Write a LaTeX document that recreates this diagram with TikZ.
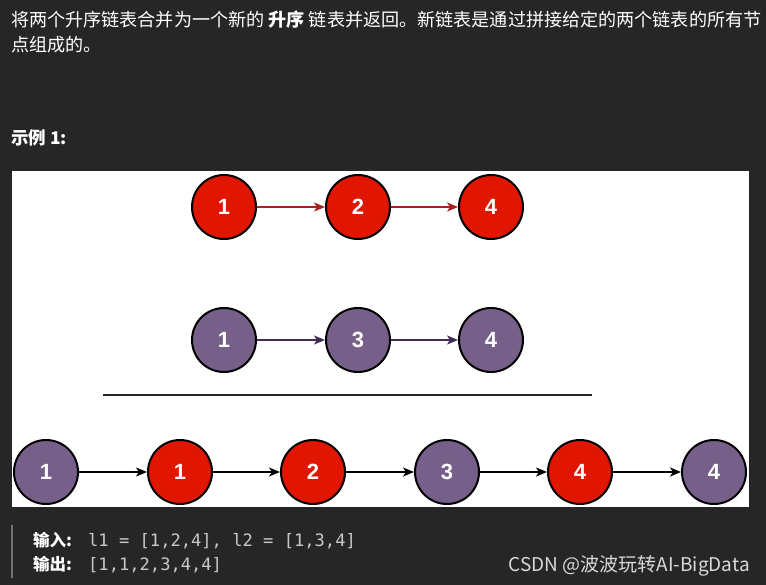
\documentclass[tikz,border=0pt]{standalone}
\usepackage{fontspec}
\setmainfont{Liberation Sans}
\setmonofont{DejaVu Sans Mono}
\newfontfamily\cjk{Noto Sans CJK SC}
\usepackage{xcolor}
\usetikzlibrary{arrows.meta}
\definecolor{bgdark}{HTML}{262626}
\definecolor{nodered}{HTML}{E01600}
\definecolor{nodepurple}{HTML}{76608A}
\definecolor{arrred}{HTML}{A82020}
\definecolor{arrpurple}{HTML}{432D57}
\definecolor{codegrey}{HTML}{C8C8C8}

\begin{document}
\begin{tikzpicture}[x=1pt,y=-1pt,>={Stealth[length=11pt,width=9pt,inset=3pt]},
  lnode/.style={circle,draw=black,line width=2pt,minimum size=64pt,inner sep=0pt,
    text=white,font=\fontsize{22}{22}\selectfont\bfseries},
  rednode/.style={lnode,fill=nodered},
  purplenode/.style={lnode,fill=nodepurple},
  link/.style={->,line width=1.8pt},
  txt/.style={anchor=base west,inner sep=0pt,text=white}]
  \fill[bgdark] (0,0) rectangle (766,585);
  \useasboundingbox (0,0) rectangle (766,585);
  % description
  \node[txt,font=\cjk\fontsize{18.1}{18.1}\selectfont] (desc1) at (11,27)
    {将两个升序链表合并为一个新的 {\bfseries 升序} 链表并返回。新链表是通过拼接给定的两个链表的所有节};
  \node[txt,font=\cjk\fontsize{18.1}{18.1}\selectfont] (desc2) at (11,52) {点组成的。};
  \node[txt,font=\cjk\fontsize{17.5}{17.5}\selectfont\bfseries] (ex) at (11,145) {示例 1:};
  % picture panel
  \fill[white] (12,171) rectangle (749,507);
  % first list
  \node[rednode] (a1) at (224,207) {1};
  \node[rednode] (a2) at (358,207) {2};
  \node[rednode] (a3) at (491,207) {4};
  \draw[link,arrred] (a1) -- (a2);
  \draw[link,arrred] (a2) -- (a3);
  % second list
  \node[purplenode] (b1) at (224,340) {1};
  \node[purplenode] (b2) at (358,340) {3};
  \node[purplenode] (b3) at (491,340) {4};
  \draw[link,arrpurple] (b1) -- (b2);
  \draw[link,arrpurple] (b2) -- (b3);
  % separator
  \coordinate (sepL) at (103,395);
  \coordinate (sepR) at (592,395);
  \draw[line width=2.2pt,black!85] (sepL) -- (sepR);
  % merged list
  \node[purplenode] (c1) at (46,472) {1};
  \node[rednode] (c2) at (180,472) {1};
  \node[rednode] (c3) at (313,472) {2};
  \node[purplenode] (c4) at (447,472) {3};
  \node[rednode] (c5) at (580,472) {4};
  \node[purplenode] (c6) at (714,472) {4};
  \foreach \i/\j in {c1/c2,c2/c3,c3/c4,c4/c5,c5/c6}
    \draw[link,black] (\i) -- (\j);
  % input / output
  \coordinate (barT) at (12,525);
  \coordinate (barB) at (12,578);
  \draw[line width=2pt,black!55] (barT) -- (barB);
  \node[txt,font=\cjk\fontsize{16.5}{16.5}\selectfont\bfseries] (inl) at (33,546) {输入:};
  \node[txt,text=codegrey,font=\ttfamily\fontsize{17.1}{17.1}\selectfont] (inv) at (88,546)
    {l1 = [1,2,4], l2 = [1,3,4]};
  \node[txt,font=\cjk\fontsize{16.5}{16.5}\selectfont\bfseries] (outl) at (33,570) {输出:};
  \node[txt,text=codegrey,font=\ttfamily\fontsize{17.1}{17.1}\selectfont] (outv) at (88,570)
    {[1,1,2,3,4,4]};
  \node[anchor=base east,inner sep=0pt,text=white!85!black,font=\cjk\fontsize{19}{19}\selectfont]
    (mark) at (750,571) {CSDN @波波玩转AI-BigData};
\end{tikzpicture}
\end{document}
